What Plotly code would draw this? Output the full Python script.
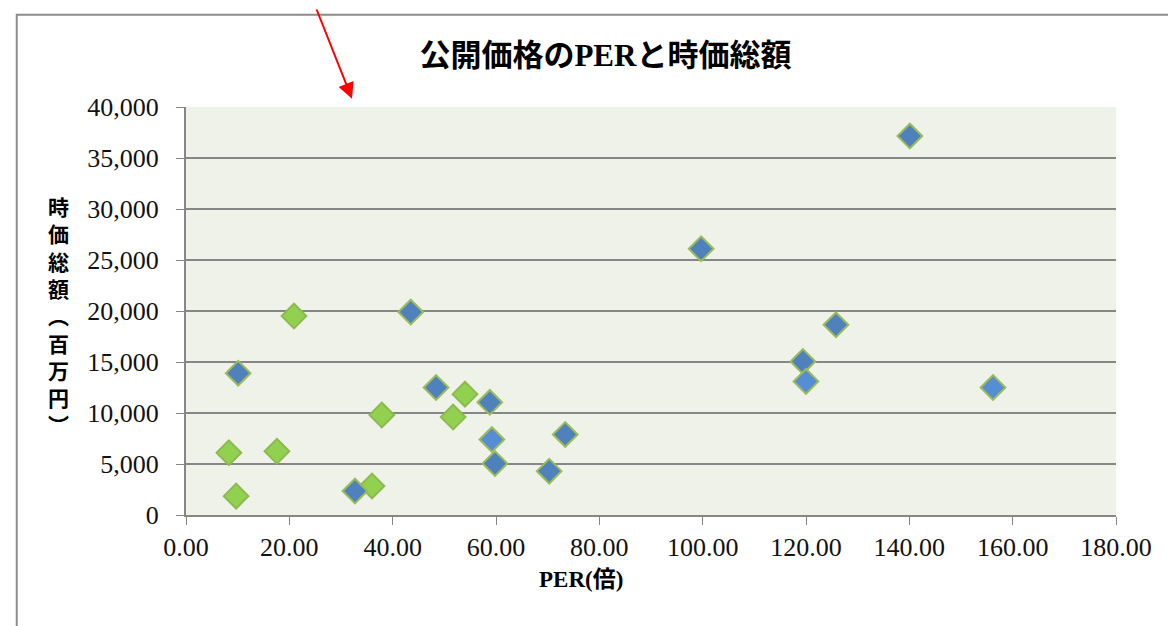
import plotly.graph_objects as go

# Series A (green)
green_per = [8.3, 9.7, 17.6, 20.9, 36.0, 37.9, 51.7, 54.0]
green_cap = [6100, 1850, 6250, 19500, 2850, 9800, 9600, 11850]

# Series B (dark blue)
blue_per = [10.1, 32.7, 43.5, 48.4, 58.8, 59.8, 70.3, 73.4, 99.7, 119.4, 125.8, 140.1]
blue_cap = [13900, 2350, 19900, 12500, 11050, 5050, 4300, 7900, 26100, 15050, 18650, 37150]

# Series C (light blue)
lblue_per = [59.2, 120.0, 156.2]
lblue_cap = [7400, 13100, 12500]

x_ticks = [0, 20, 40, 60, 80, 100, 120, 140, 160, 180]
y_ticks = [0, 5000, 10000, 15000, 20000, 25000, 30000, 35000, 40000]

title_text = "公開価格のPERと時価総額"
x_title = "PER(倍)"
y_title_chars = ["時", "価", "総", "額", "︵", "百", "万", "円", "︶"]

fig = go.Figure()

def add_series(xs, ys, fill, line):
    fig.add_trace(go.Scatter(
        x=xs, y=ys, mode="markers",
        marker=dict(symbol="diamond", size=19, color=fill,
                    line=dict(color=line, width=2)),
        showlegend=False, hoverinfo="x+y",
    ))

add_series(green_per, green_cap, "#92D050", "#8DBA4F")
add_series(blue_per, blue_cap, "#4F81BD", "#9BBB59")
add_series(lblue_per, lblue_cap, "#558ED5", "#9BBB59")

serif = "Liberation Serif, Noto Sans CJK JP"

fig.update_layout(
    width=1176, height=626,
    margin=dict(l=178, r=68, t=99, b=119),
    paper_bgcolor="white",
    plot_bgcolor="#EFF2E9",
    title=dict(text=f"<b>{title_text}</b>", x=0.508, xanchor="center",
               y=0.925, yanchor="middle",
               font=dict(family="Liberation Serif, Noto Sans CJK JP", size=31, color="black")),
    xaxis=dict(
        range=[0, 180], tickvals=x_ticks,
        ticktext=[f"{v:.2f}" for v in x_ticks],
        showgrid=False, zeroline=False,
        showline=True, linecolor="#868686", linewidth=2,
        ticks="outside", ticklen=8, tickcolor="#868686", tickwidth=1,
        tickfont=dict(family=serif, size=26, color="#111111"),
    ),
    yaxis=dict(
        range=[0, 40000], tickvals=y_ticks,
        ticktext=[f"{v:,}" for v in y_ticks],
        showgrid=True, gridcolor="#868686", gridwidth=2,
        zeroline=False,
        showline=True, linecolor="#868686", linewidth=2,
        ticks="outside", ticklen=8, tickcolor="#868686", tickwidth=1,
        ticklabelstandoff=12,
        tickfont=dict(family=serif, size=26, color="#111111"),
    ),
    shapes=[
        dict(type="rect", xref="paper", yref="paper",
             x0=-0.182, x1=1.2, y0=-0.4, y1=1.226,
             line=dict(color="#8C8C8C", width=2), fillcolor="rgba(0,0,0,0)",
             layer="below"),
    ],
    annotations=[
        dict(text="<br>".join(f"<b>{c}</b>" for c in y_title_chars),
             xref="paper", yref="paper", x=-0.137, y=0.49,
             xanchor="center", yanchor="middle", showarrow=False,
             font=dict(family="Noto Sans CJK JP", size=21, color="black"),
             align="center"),
        dict(text=f"<b>{x_title}</b>", xref="paper", yref="paper",
             x=0.425, y=-0.158, xanchor="center", yanchor="middle",
             showarrow=False,
             font=dict(family=serif, size=23, color="black")),
        dict(text="", xref="paper", yref="paper",
             x=0.1785, y=1.02, showarrow=True,
             ax=-36, ay=-108, arrowhead=2, arrowsize=1.6, arrowwidth=2,
             arrowcolor="#FF0000"),
    ],
)

fig.write_html("out.html")
